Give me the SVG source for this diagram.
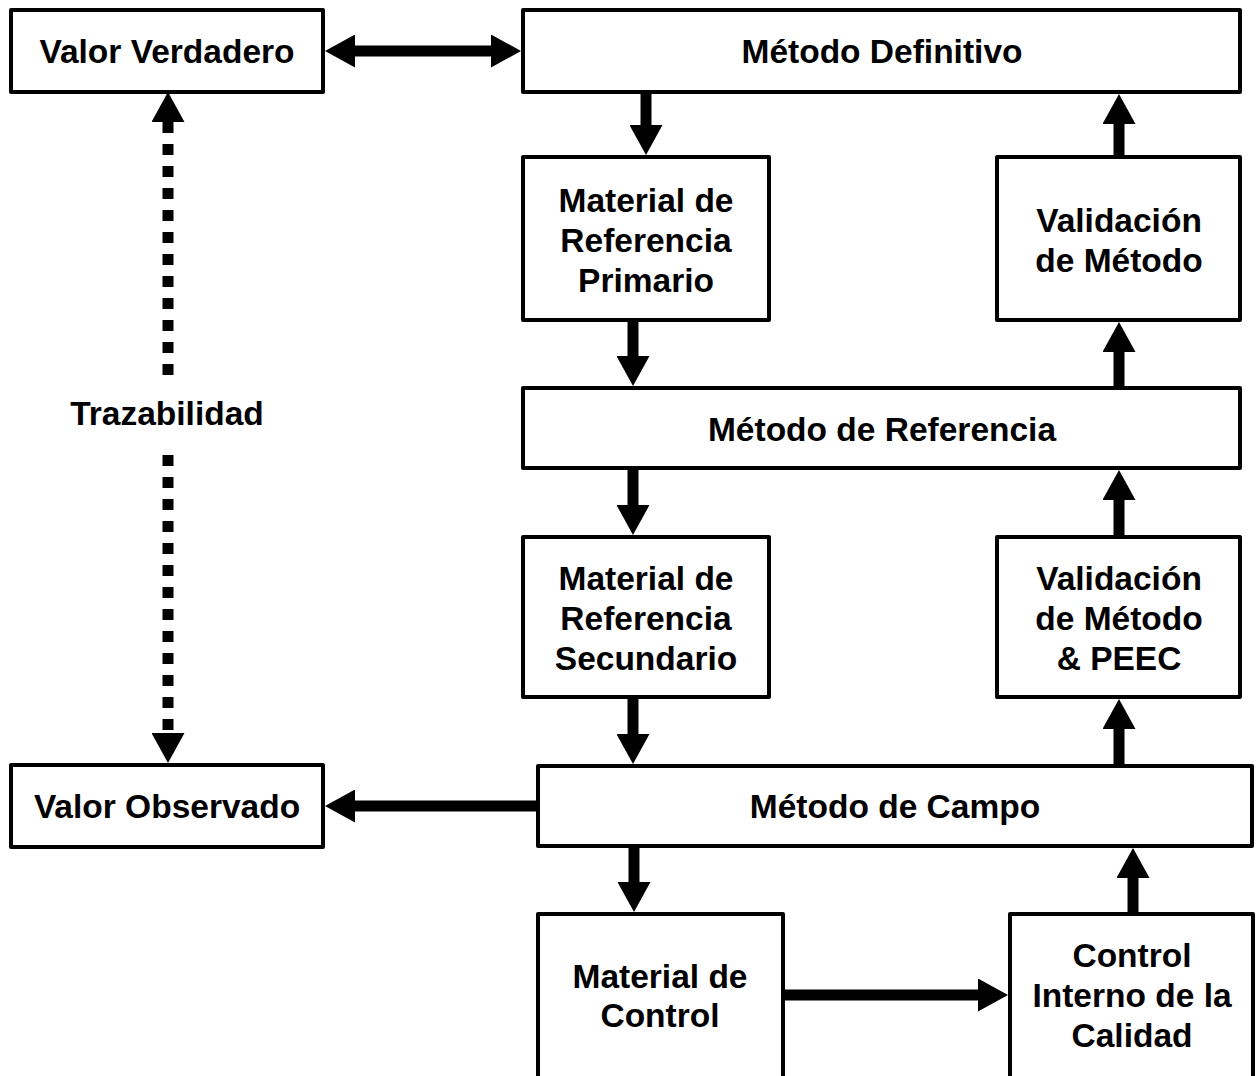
<svg xmlns="http://www.w3.org/2000/svg" width="1257" height="1076" viewBox="0 0 1257 1076">
  <style>
    .box { fill: #ffffff; stroke: #000000; stroke-width: 4; stroke-linejoin: round; }
    .lbl { font-family: "Liberation Sans", Arial, sans-serif; font-weight: bold; font-size: 33.5px; fill: #000000; text-anchor: middle; }
    .arr { stroke: #000000; stroke-width: 11; fill: none; stroke-linecap: butt; }
    .dot { stroke: #000000; stroke-width: 11; fill: none; stroke-dasharray: 11 11; stroke-linecap: butt; }
  </style>
  <defs>
    <marker id="head" viewBox="0 0 30 33" refX="0" refY="16.5" markerWidth="30" markerHeight="33" markerUnits="userSpaceOnUse" orient="auto-start-reverse">
      <path d="M0,0 L30,16.5 L0,33 Z" fill="#000000"/>
    </marker>
  </defs>
  <rect width="1257" height="1076" fill="#ffffff"/>

  <g id="connectors">
    <line class="arr" x1="355" y1="51" x2="491" y2="51" marker-start="url(#head)" marker-end="url(#head)"/>
    <line class="arr" x1="646" y1="92" x2="646" y2="125" marker-end="url(#head)"/>
    <line class="arr" x1="633" y1="320" x2="633" y2="356" marker-end="url(#head)"/>
    <line class="arr" x1="1119" y1="157" x2="1119" y2="124" marker-end="url(#head)"/>
    <line class="arr" x1="1119" y1="388" x2="1119" y2="352" marker-end="url(#head)"/>
    <line class="arr" x1="633" y1="468" x2="633" y2="505" marker-end="url(#head)"/>
    <line class="arr" x1="1119" y1="537" x2="1119" y2="500" marker-end="url(#head)"/>
    <line class="arr" x1="633" y1="697" x2="633" y2="734" marker-end="url(#head)"/>
    <line class="arr" x1="1119" y1="766" x2="1119" y2="729" marker-end="url(#head)"/>
    <line class="arr" x1="538" y1="806" x2="355" y2="806" marker-end="url(#head)"/>
    <line class="arr" x1="634" y1="846" x2="634" y2="882" marker-end="url(#head)"/>
    <line class="arr" x1="783" y1="995" x2="978" y2="995" marker-end="url(#head)"/>
    <line class="arr" x1="1133" y1="914" x2="1133" y2="878" marker-end="url(#head)"/>
    <line class="dot" x1="168" y1="122" x2="168" y2="376" marker-start="url(#head)"/>
    <line class="dot" x1="168" y1="455" x2="168" y2="733" marker-end="url(#head)"/>
    <text class="lbl" x="167" y="425">Trazabilidad</text>
  </g>

  <g id="valor-verdadero">
    <rect class="box" x="11" y="10" width="312" height="82"/>
    <text class="lbl" x="167" y="63">Valor Verdadero</text>
  </g>
  <g id="metodo-definitivo">
    <rect class="box" x="523" y="10" width="717" height="82"/>
    <text class="lbl" x="882" y="63">Método Definitivo</text>
  </g>
  <g id="material-ref-primario">
    <rect class="box" x="523" y="157" width="246" height="163"/>
    <text class="lbl" x="646" y="212">Material de</text>
    <text class="lbl" x="646" y="252">Referencia</text>
    <text class="lbl" x="646" y="292">Primario</text>
  </g>
  <g id="validacion-metodo">
    <rect class="box" x="997" y="157" width="243" height="163"/>
    <text class="lbl" x="1119" y="232">Validación</text>
    <text class="lbl" x="1119" y="272">de Método</text>
  </g>
  <g id="metodo-referencia">
    <rect class="box" x="523" y="388" width="717" height="80"/>
    <text class="lbl" x="882" y="441">Método de Referencia</text>
  </g>
  <g id="material-ref-secundario">
    <rect class="box" x="523" y="537" width="246" height="160"/>
    <text class="lbl" x="646" y="590">Material de</text>
    <text class="lbl" x="646" y="630">Referencia</text>
    <text class="lbl" x="646" y="670">Secundario</text>
  </g>
  <g id="validacion-peec">
    <rect class="box" x="997" y="537" width="243" height="160"/>
    <text class="lbl" x="1119" y="590">Validación</text>
    <text class="lbl" x="1119" y="630">de Método</text>
    <text class="lbl" x="1119" y="670">&amp; PEEC</text>
  </g>
  <g id="valor-observado">
    <rect class="box" x="11" y="765" width="312" height="82"/>
    <text class="lbl" x="167" y="818">Valor Observado</text>
  </g>
  <g id="metodo-campo">
    <rect class="box" x="538" y="766" width="714" height="80"/>
    <text class="lbl" x="895" y="818">Método de Campo</text>
  </g>
  <g id="material-control">
    <rect class="box" x="538" y="914" width="245" height="180"/>
    <text class="lbl" x="660" y="988">Material de</text>
    <text class="lbl" x="660" y="1027">Control</text>
  </g>
  <g id="control-interno">
    <rect class="box" x="1010" y="914" width="243" height="180"/>
    <text class="lbl" x="1132" y="967">Control</text>
    <text class="lbl" x="1132" y="1007">Interno de la</text>
    <text class="lbl" x="1132" y="1047">Calidad</text>
  </g>
</svg>
